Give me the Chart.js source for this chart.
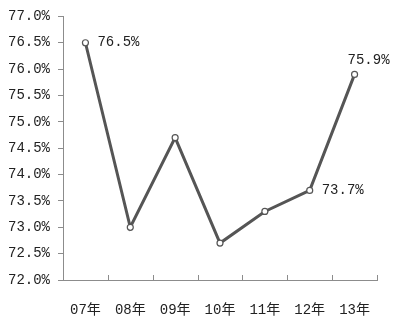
<!DOCTYPE html>
<html>
<head>
<meta charset="utf-8">
<script src="https://cdn.jsdelivr.net/npm/chart.js@4/dist/chart.umd.min.js"></script>
<style>
  html, body { margin: 0; padding: 0; background: #fff; }
  #wrap { width: 400px; height: 323px; }
</style>
</head>
<body>
<div id="wrap"><canvas id="myChart" width="400" height="323"></canvas></div>
<script>
const years = ["07年", "08年", "09年", "10年", "11年", "12年", "13年"];
const rates = [76.5, 73.0, 74.7, 72.7, 73.3, 73.7, 75.9];
const shownLabels = [0, 5, 6];

const fontFamily = "'Liberation Mono', 'Noto Sans CJK SC', monospace";
const axisColor = "#8c8c8c";

// little tick marks pointing up from the x axis + value labels
const extras = {
    id: "extras",
    afterDraw(chart) {
        const c = chart.ctx;
        const x = chart.scales.x;
        const area = chart.chartArea;
        c.save();
        c.strokeStyle = axisColor;
        c.lineWidth = 1;
        for (let i = 0; i <= years.length; i++) {
            const px = Math.round(x.getPixelForValue(i - 0.5)) + 0.5;
            c.beginPath();
            c.moveTo(px, area.bottom);
            c.lineTo(px, area.bottom - 5);
            c.stroke();
        }
        const pts = chart.getDatasetMeta(0).data;
        c.fillStyle = "#222";
        c.font = "14px " + fontFamily;
        c.textBaseline = "middle";
        shownLabels.forEach(i => {
            const p = pts[i];
            const txt = rates[i].toFixed(1) + "%";
            if (i === years.length - 1) {
                c.textAlign = "left";
                c.fillText(txt, p.x - 7, p.y - 14);
            } else {
                c.textAlign = "left";
                c.fillText(txt, p.x + 12, p.y);
            }
        });
        c.restore();
    }
};

const ctx = document.getElementById("myChart");
new Chart(ctx, {
    type: "line",
    data: {
        labels: years,
        datasets: [
            {
                data: rates,
                borderColor: "#555555",
                borderWidth: 3,
                pointRadius: 3,
                pointBorderWidth: 1.2,
                pointBackgroundColor: "#ffffff",
                pointBorderColor: "#555555",
                tension: 0,
            },
        ],
    },
    options: {
        responsive: false,
        animation: false,
        layout: { padding: { top: 7, right: 23, left: 0, bottom: 0 } },
        plugins: {
            legend: { display: false },
            tooltip: { enabled: false },
        },
        scales: {
            x: {
                offset: true,
                grid: { display: false },
                border: { display: true, color: axisColor, width: 1 },
                ticks: {
                    color: "#222",
                    font: { family: fontFamily, size: 14 },
                    padding: 14,
                    maxRotation: 0,
                },
                afterFit(scale) { scale.height = 43; },
            },
            y: {
                min: 72,
                max: 77,
                grid: {
                    drawOnChartArea: false,
                    drawTicks: true,
                    tickLength: 5,
                    color: axisColor,
                },
                border: { display: true, color: axisColor, width: 1 },
                ticks: {
                    stepSize: 0.5,
                    color: "#222",
                    font: { family: fontFamily, size: 14 },
                    padding: 8,
                    callback: v => v.toFixed(1) + "%",
                },
                afterFit(scale) { scale.width = 63; },
            },
        },
    },
    plugins: [extras],
});
</script>
</body>
</html>
